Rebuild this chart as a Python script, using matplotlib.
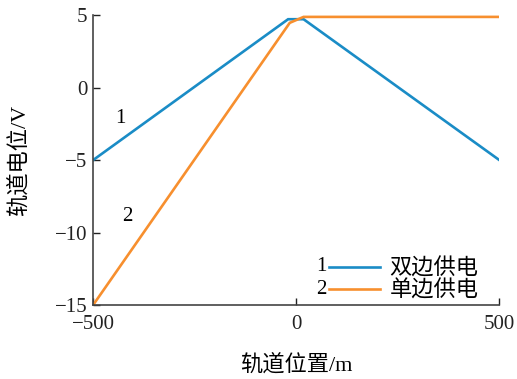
import matplotlib
matplotlib.use("Agg")
import matplotlib.pyplot as plt
from matplotlib.lines import Line2D

plt.rcParams['font.family'] = ['Liberation Serif', 'Noto Sans CJK SC', 'DejaVu Sans']
plt.rcParams['axes.unicode_minus'] = True

# Data
x_double = [-500, -20, 18, 500]
y_double = [-5, 4.72, 4.72, -5]
x_single = [-500, -16, 18, 500]
y_single = [-15, 4.47, 4.88, 4.88]
labels = ["双边供电", "单边供电"]
xticks = [-500, 0, 500]
yticks = [-15, -10, -5, 0, 5]

blue = "#1a8cc6"
orange = "#f78f2e"

fig = plt.figure(figsize=(5.17, 3.79), dpi=100)
ax = fig.add_axes([0.18, 0.195, 0.786, 0.765])

ax.plot(x_double, y_double, color=blue, lw=1.9, solid_joinstyle='miter')
ax.plot(x_single, y_single, color=orange, lw=1.9, solid_joinstyle='miter')

ax.set_xlim(-500, 500)
ax.set_ylim(-15, 5)
ax.set_xticks(xticks)
ax.set_yticks(yticks)
ax.tick_params(direction='in', length=5, width=1, labelsize=15, colors='#222222')
ax.tick_params(axis='x', pad=7)
ax.tick_params(axis='y', pad=4)
for s in ['top', 'right']:
    ax.spines[s].set_visible(False)
for s in ['left', 'bottom']:
    ax.spines[s].set_color('#444444')
    ax.spines[s].set_linewidth(1.2)

ax.set_xlabel("轨道位置/m", fontsize=16, labelpad=15)
ax.set_ylabel("轨道电位/V", fontsize=16, labelpad=18)

ax.text(-432, -2.1, "1", fontsize=15, ha='center', va='center')
ax.text(-415, -8.9, "2", fontsize=15, ha='center', va='center')

handles = [Line2D([0], [0], color=blue, lw=1.9), Line2D([0], [0], color=orange, lw=1.9)]
leg = ax.legend(handles, labels, loc='lower right', frameon=False, fontsize=16,
                handlelength=2.3, handletextpad=0.4, labelspacing=0.05,
                borderaxespad=0, bbox_to_anchor=(0.97, -0.02))
fig.canvas.draw()
# Numbers before legend lines
for i, line in enumerate(leg.get_lines()):
    bb = line.get_window_extent(fig.canvas.get_renderer())
    xd, yd = ax.transData.inverted().transform((bb.x0 - 3, (bb.y0 + bb.y1) / 2))
    ax.text(xd, yd, str(i + 1), fontsize=15, ha='right', va='center')

fig.savefig("out.png", dpi=100)
